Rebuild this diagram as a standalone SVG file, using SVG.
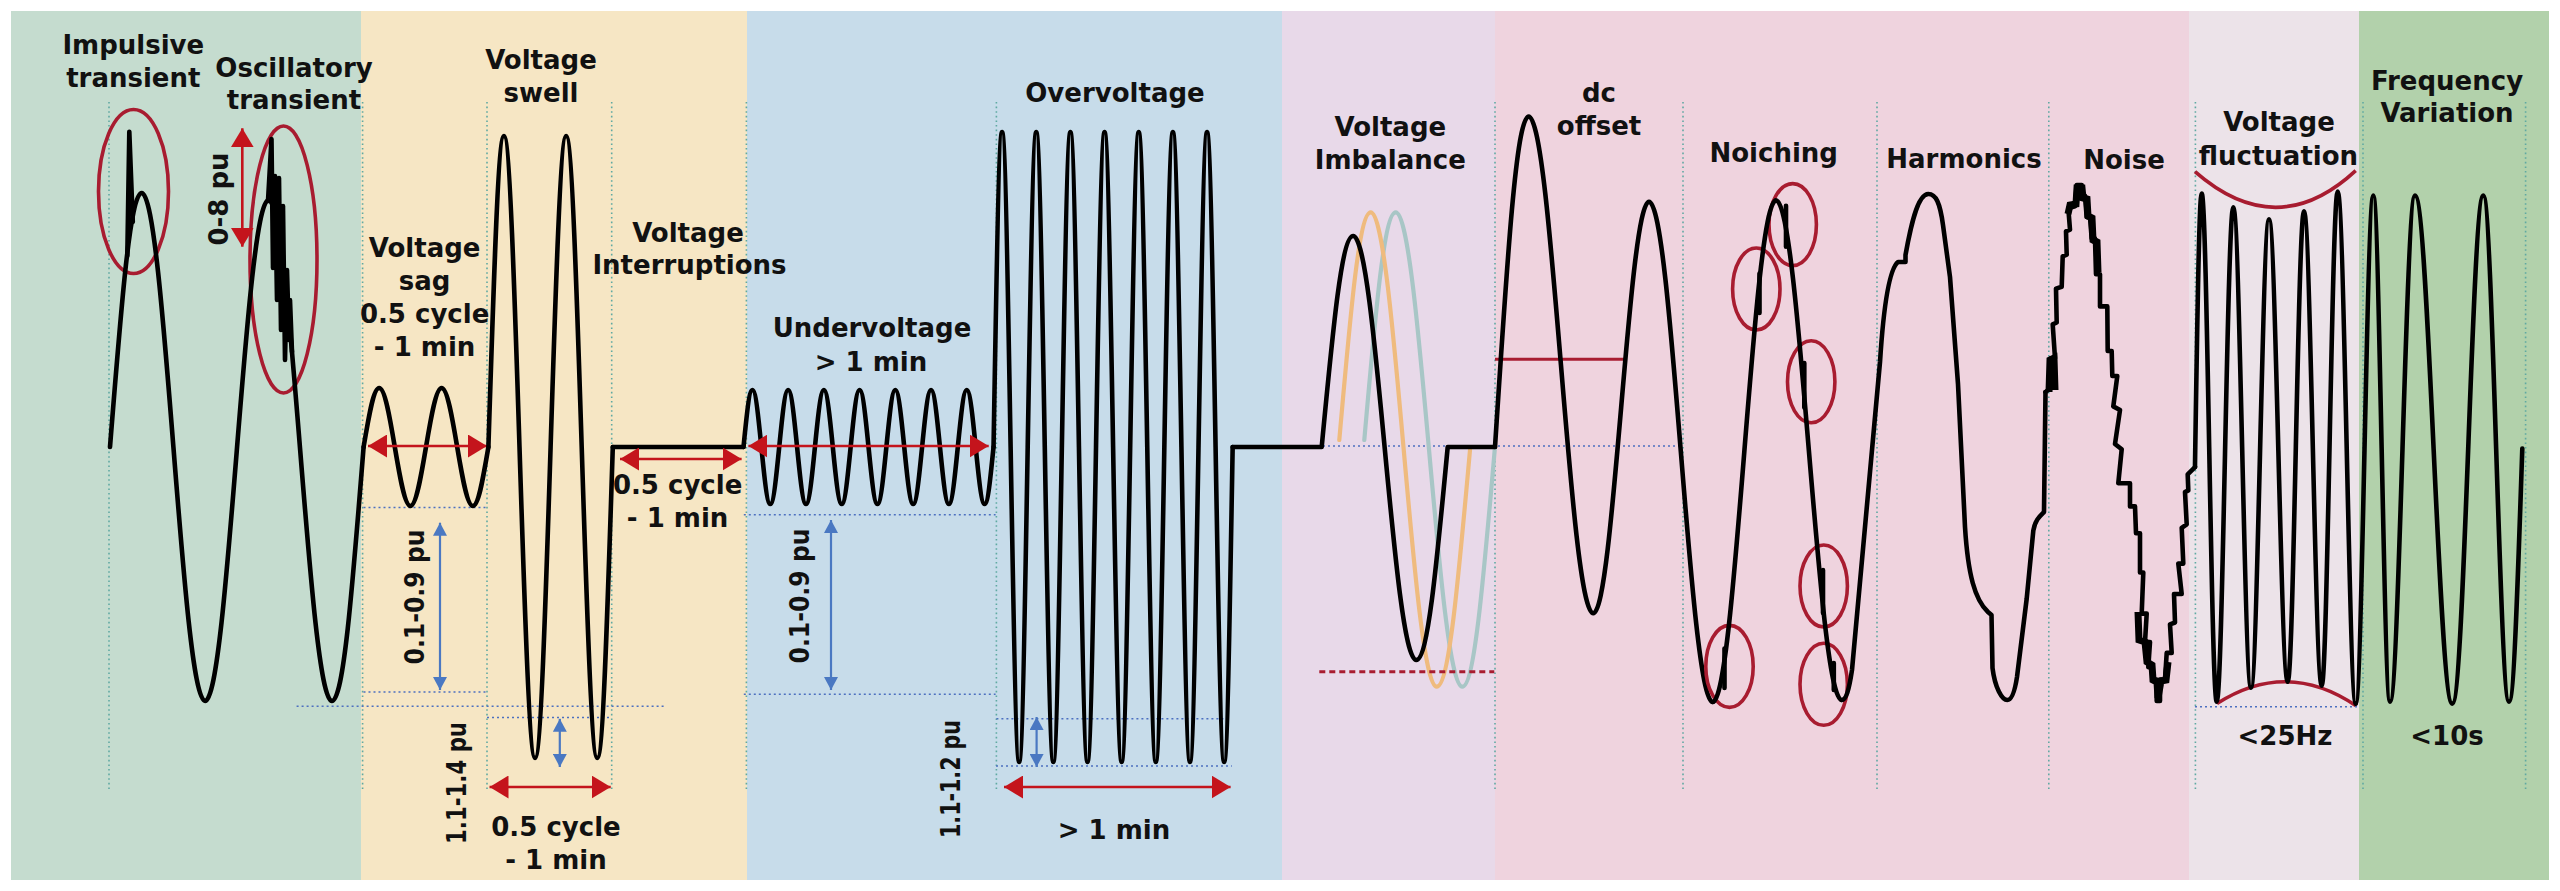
<svg xmlns="http://www.w3.org/2000/svg" width="2560" height="891" viewBox="0 0 2560 891">
<style>
.t{font-family:"DejaVu Sans","Liberation Sans",sans-serif;font-weight:bold;font-size:26px;fill:#111;text-anchor:middle}
.w{fill:none;stroke:#000;stroke-width:4.6;stroke-linejoin:round;stroke-linecap:round}
.vg{stroke:#5fa9a2;stroke-width:1.6;stroke-dasharray:1.6 3;fill:none}
.hg{stroke:#4d70c0;stroke-width:1.5;stroke-dasharray:2 3;fill:none}
.ra{stroke:#c4141c;stroke-width:2.6;fill:none}
.ba{stroke:#4a78c2;stroke-width:2.2;fill:none}
.el{fill:none;stroke:#a81c30;stroke-width:3.6}
</style>
<defs>
<marker id="rh" viewBox="0 0 19 23" refX="19" refY="11.5" markerWidth="19" markerHeight="23" markerUnits="userSpaceOnUse" orient="auto-start-reverse" preserveAspectRatio="none"><path d="M0,0 L19,11.5 L0,23 Z" fill="#c4141c"/></marker>
<marker id="bh" viewBox="0 0 13 14" refX="13" refY="7" markerWidth="13" markerHeight="14" markerUnits="userSpaceOnUse" orient="auto-start-reverse" preserveAspectRatio="none"><path d="M0,0 L13,7 L0,14 Z" fill="#4a78c2"/></marker>
</defs>
<rect width="2560" height="891" fill="#fff"/>
<g id="panels">
<rect x="11" y="11" width="350" height="869" fill="#c5dccf"/>
<rect x="361" y="11" width="386" height="869" fill="#f6e6c4"/>
<rect x="747" y="11" width="535" height="869" fill="#c7dcea"/>
<rect x="1282" y="11" width="213" height="869" fill="#e8d9e9"/>
<rect x="1495" y="11" width="694" height="869" fill="#efd3de"/>
<rect x="2189" y="11" width="170" height="869" fill="#ece3e9"/>
<rect x="2359" y="11" width="190" height="869" fill="#b2d1ab"/>
</g>
<g id="guides">
<path class="vg" d="M109,102V789M362.6,102V789M487,102V789M611.7,102V789M746.4,102V789M996.4,102V789M1495,102V789M1683,102V789M1877,102V789M2048.8,102V789M2195.4,102V789M2363,102V789M2525.6,102V789"/>
<path class="hg" d="M363.5,507.4H487M363.5,692H487M296.6,706.2H666.5M487,717.6H611.7M743.8,514.8H995.6M743.8,694.3H995.6M996.4,718.8H1229.8M996,766H1231.8M1318,446H1682M2195,706.7H2360"/>
</g>
<g id="transients">
<ellipse class="el" cx="133.5" cy="191.5" rx="35" ry="82"/>
<ellipse class="el" cx="283.5" cy="259.5" rx="33.5" ry="133.5"/>
<path class="w" d="M110,447 c11.5,-145 20.2,-254 31.7,-254 c23.1,0 40.3,508 63.4,508 c23.1,0 40.3,-501 63.4,-501 c23.1,0 40.3,501 63.4,501 c11.5,0 20.2,-108.7 31.7,-254"/>
<path class="w" stroke-width="4" d="M127.3,256 L129.3,131.7 L132.8,222"/>
<path class="w" stroke-width="4" d="M268,201 L271.5,139 L273,268 L275,176 L277,300 L279,178 L281,330 L283,206 L285,360 L287,270 L289,340 L290,300 L292,352"/>
<line class="ra" x1="242.3" y1="246.7" x2="242.3" y2="128.3" marker-start="url(#rh)" marker-end="url(#rh)"/>
<text class="t" transform="translate(228,199) rotate(-90)">0-8 pu</text>
<text class="t" x="133.3" y="54">Impulsive</text>
<text class="t" x="133.3" y="87">transient</text>
<text class="t" x="294" y="77">Oscillatory</text>
<text class="t" x="294" y="109">transient</text>
</g>
<g id="sag">
<path class="w" d="M363.6,447 c5.7,-33.7 9.9,-59 15.6,-59 c11.36,0 19.84,118 31.2,118 c11.36,0 19.84,-118 31.2,-118 c11.36,0 19.84,118 31.2,118 c5.7,0 9.9,-25.3 15.6,-59"/>
<line class="ra" x1="368" y1="446" x2="487" y2="446" marker-start="url(#rh)" marker-end="url(#rh)"/>
<line class="ba" x1="440" y1="522.7" x2="440" y2="690" marker-start="url(#bh)" marker-end="url(#bh)"/>
<text class="t" transform="translate(424,597) rotate(-90)" textLength="135" lengthAdjust="spacingAndGlyphs">0.1-0.9 pu</text>
<text class="t" x="424.6" y="257">Voltage</text>
<text class="t" x="424.6" y="290">sag</text>
<text class="t" x="424.6" y="323">0.5 cycle</text>
<text class="t" x="424.6" y="356">- 1 min</text>
</g>
<g id="swell">
<path class="w" d="M488.4,447 c5.66,-177.9 9.89,-311 15.55,-311 c11.32,0 19.78,622 31.1,622 c11.32,0 19.78,-622 31.1,-622 c11.32,0 19.78,622 31.1,622 c5.66,0 9.89,-133.1 15.55,-311"/>
<line class="ba" x1="559.8" y1="718.8" x2="559.8" y2="767" marker-start="url(#bh)" marker-end="url(#bh)"/>
<line class="ra" x1="489.5" y1="787" x2="610.7" y2="787" marker-start="url(#rh)" marker-end="url(#rh)"/>
<text class="t" transform="translate(466,783) rotate(-90)" textLength="122" lengthAdjust="spacingAndGlyphs">1.1-1.4 pu</text>
<text class="t" x="541" y="69">Voltage</text>
<text class="t" x="541" y="102">swell</text>
<text class="t" x="556" y="836">0.5 cycle</text>
<text class="t" x="556" y="869">- 1 min</text>
</g>
<g id="interruption">
<path class="w" d="M612.8,447 H743.5"/>
<line class="ra" x1="620" y1="459" x2="741.6" y2="459" marker-start="url(#rh)" marker-end="url(#rh)"/>
<text class="t" x="688" y="241.5">Voltage</text>
<text class="t" x="689.5" y="274">Interruptions</text>
<text class="t" x="677.6" y="494">0.5 cycle</text>
<text class="t" x="677.6" y="527">- 1 min</text>
</g>
<g id="undervoltage">
<path class="w" d="M743.5,447 c3.25,-32.6 5.68,-57 8.93,-57 c6.5,0 11.36,114 17.86,114 c6.5,0 11.36,-114 17.86,-114 c6.5,0 11.36,114 17.86,114 c6.5,0 11.36,-114 17.86,-114 c6.5,0 11.36,114 17.86,114 c6.5,0 11.36,-114 17.86,-114 c6.5,0 11.36,114 17.86,114 c6.5,0 11.36,-114 17.86,-114 c6.5,0 11.36,114 17.86,114 c6.5,0 11.36,-114 17.86,-114 c6.5,0 11.36,114 17.86,114 c6.5,0 11.36,-114 17.86,-114 c6.5,0 11.36,114 17.86,114 c3.25,0 5.68,-24.4 8.93,-57"/>
<line class="ra" x1="748.4" y1="446" x2="988.7" y2="446" marker-start="url(#rh)" marker-end="url(#rh)"/>
<line class="ba" x1="831" y1="520" x2="831" y2="690" marker-start="url(#bh)" marker-end="url(#bh)"/>
<text class="t" transform="translate(809,596) rotate(-90)" textLength="135" lengthAdjust="spacingAndGlyphs">0.1-0.9 pu</text>
<text class="t" x="872" y="337">Undervoltage</text>
<text class="t" x="871" y="370.5">&gt; 1 min</text>
</g>
<g id="overvoltage">
<path class="w" d="M993.54,447 c3.11,-180.2 5.43,-315 8.54,-315 c6.22,0 10.86,630 17.08,630 c6.22,0 10.86,-630 17.08,-630 c6.22,0 10.86,630 17.08,630 c6.22,0 10.86,-630 17.08,-630 c6.22,0 10.86,630 17.08,630 c6.22,0 10.86,-630 17.08,-630 c6.22,0 10.86,630 17.08,630 c6.22,0 10.86,-630 17.08,-630 c6.22,0 10.86,630 17.08,630 c6.22,0 10.86,-630 17.08,-630 c6.22,0 10.86,630 17.08,630 c6.22,0 10.86,-630 17.08,-630 c6.22,0 10.86,630 17.08,630 c3.11,0 5.43,-134.8 8.54,-315"/>
<line class="ba" x1="1036.6" y1="717" x2="1036.6" y2="767" marker-start="url(#bh)" marker-end="url(#bh)"/>
<line class="ra" x1="1004" y1="787" x2="1230.6" y2="787" marker-start="url(#rh)" marker-end="url(#rh)"/>
<text class="t" transform="translate(960,779) rotate(-90)" textLength="118" lengthAdjust="spacingAndGlyphs">1.1-1.2 pu</text>
<text class="t" x="1115" y="102">Overvoltage</text>
<text class="t" x="1114" y="839">&gt; 1 min</text>
</g>
<g id="imbalance">
<path fill="none" stroke="#a8c6c6" stroke-width="4.2" stroke-linecap="round" d="M1364.3,440 c11.43,-130.2 19.96,-227.7 31.4,-227.7 C1419.94,212.3 1438.06,686.7 1462.3,686.7 C1474.2,686.7 1483.1,584 1495,446.7"/>
<path fill="none" stroke="#efbb7e" stroke-width="4.2" stroke-linecap="round" d="M1339.3,440 c11.43,-130.2 19.96,-227.7 31.4,-227.7 C1394.72,212.3 1412.68,686.7 1436.7,686.7 C1448.82,686.7 1457.87,585.4 1470,450"/>
<path class="w" d="M1232.66,447 H1321.7 c11.47,-120.7 20.03,-211 31.5,-211 c22.93,0 40.07,424 63,424 c11.47,0 20.03,-91 31.5,-213 H1495"/>
<path fill="none" stroke="#a81c30" stroke-width="3" stroke-dasharray="6 4" d="M1319.3,671.7H1494.3"/>
<text class="t" x="1390.3" y="136.4">Voltage</text>
<text class="t" x="1390.3" y="169.3">Imbalance</text>
</g>
<g id="dc-offset">
<path fill="none" stroke="#a81c30" stroke-width="3" d="M1495,359.3H1625"/>
<path class="w" d="M1495,447 c12.24,-189 21.36,-330.5 33.6,-330.5 c23.55,0 41.15,496.8 64.7,496.8 c20.27,0 35.43,-411.6 55.7,-411.6 c23.19,0 40.51,500.3 63.7,500.3"/>
<text class="t" x="1599" y="102">dc</text>
<text class="t" x="1599" y="135">offset</text>
</g>
<g id="noiching">
<ellipse class="el" cx="1729.5" cy="666.4" rx="23.7" ry="41"/>
<ellipse class="el" cx="1756.3" cy="289" rx="23.7" ry="41"/>
<ellipse class="el" cx="1792.7" cy="224.6" rx="23.7" ry="41"/>
<ellipse class="el" cx="1811.2" cy="381.8" rx="23.7" ry="41"/>
<ellipse class="el" cx="1823.7" cy="586" rx="23.7" ry="41"/>
<ellipse class="el" cx="1823.7" cy="684.3" rx="23.7" ry="41"/>
<path class="w" d="M1712.7,702 c23.04,0 40.26,-501.6 63.3,-501.6 c23.91,0 41.79,499.6 65.7,499.6"/>
<path class="w" stroke-width="4" d="M1724.5,648.6V688M1759.5,273.6V313M1786,205.7V246.8M1804.3,363V407.5M1823,570V613M1833.8,663V690"/>
<text class="t" x="1773.7" y="162">Noiching</text>
</g>
<g id="harmonics">
<path class="w" d="M1841.7,700 C1846,700 1849,690 1852,670 L1880,362 C1883,315 1888,270 1898,262 L1905.5,262 L1905.5,255 C1910,230 1917,194 1928.3,194 C1936,194 1940,203 1943,225 L1950,277 L1958,384 L1965,527 C1968,575 1975,600 1988,612 L1991.5,615 L1992.5,668 C1995,688 2002,700 2007.3,700 C2012,700 2015,690 2017,677 L2026.7,598.6 L2033.3,530.7 C2035,520 2040,516 2044,512 L2045.5,392"/>
<text class="t" x="1964" y="167.6">Harmonics</text>
</g>
<g id="noise">
<path class="w" stroke-linejoin="miter" stroke-linecap="square" d="M2045.5,392 L2050,388.6 L2050.7,358.2 L2055,358.2 L2052.7,324.3 L2056.7,322.5 L2056,288.6 L2061.7,286.8 L2062.7,256.4 L2066.7,254.6 L2066,231.4 L2070,229.6 L2068.3,208.2 L2075,206.4 L2076.7,185 L2081.7,185 L2081.7,195.7 L2085,195.7 L2086.7,217.1 L2090,217.1 L2091.7,238.6 L2095,238.6 L2096,274.3 L2100,274.3 L2100,306.4 L2107.3,306.4 L2107.7,351 L2111.7,351 L2112.3,376 L2117.3,376 L2113.3,406.4 L2120,410 L2115,444 L2121.7,449.3 L2118.3,483.2 L2130,483.2 L2130,506.4 L2135,506.4 L2136,533.2 L2140,533.2 L2140,572.5 L2143.3,572.5 L2141.7,613.6 L2146.7,613.6 L2145,642.1 L2150,642.1 L2148.3,667.1 L2152.7,667.1 L2152.7,679.6 L2156.7,679.6 L2156.7,701 L2160,701 L2160,679.6 L2165,679.6 L2166.7,652.9 L2171.7,652.9 L2170,624.3 L2175,622.5 L2174,594 L2181.7,594 L2178.3,563.6 L2183.3,563.6 L2181.7,527.9 L2186.7,524.3 L2185,492.1 L2188.3,490.4 L2187.7,474.3 L2195,467.1"/>
<path fill="none" stroke="#000" stroke-width="7" d="M2068,214 L2070,205 L2076,204 L2077,188 L2082,188 L2083,198 L2087,199 L2088,216 L2092,218 L2093,240 L2097,242 L2098,272 M2138,612 L2139,640 L2145,642 L2147,662 L2152,665 L2153,680 L2157,682 L2158,698 L2161,681 L2166,680 L2168,662 M2049,392 L2050,360 L2054,358 L2055,390"/>
<text class="t" x="2124" y="169.3">Noise</text>
</g>
<g id="fluctuation">
<path fill="none" stroke="#a81c30" stroke-width="3.6" d="M2195,171.7 Q2277,243.5 2355.7,170.6 M2217,703.6 Q2286.7,659 2355.7,705.6"/>
<path class="w" d="M2195,467.1 L2195,465 c2.44,-155.3 4.26,-271.5 6.7,-271.5 C2207.16,193.5 2211.24,701.6 2216.7,701.6 C2222.74,701.6 2227.26,207.3 2233.3,207.3 C2239.74,207.3 2244.56,687.8 2251,687.8 C2257.55,687.8 2262.45,219.2 2269,219.2 C2275.81,219.2 2280.89,681.8 2287.7,681.8 C2293.63,681.8 2298.07,211.3 2304,211.3 C2310.44,211.3 2315.26,685.8 2321.7,685.8 C2327.52,685.8 2331.88,191.5 2337.7,191.5 C2344.25,191.5 2349.15,703.6 2355.7,703.6"/>
<text class="t" x="2279" y="130.7">Voltage</text>
<text class="t" x="2278.4" y="164.8">fluctuation</text>
<text class="t" x="2285" y="745">&lt;25Hz</text>
</g>
<g id="frequency-variation">
<path class="w" d="M2355.7,703.6 C2362.11,703.6 2366.89,195.5 2373.3,195.5 C2379.38,195.5 2383.92,701.6 2390,701.6 C2399.1,701.6 2405.9,195.5 2415,195.5 C2428.58,195.5 2438.72,703.6 2452.3,703.6 C2464.58,703.6 2472.02,195.5 2483.3,195.5 C2492.65,195.5 2499.65,701.6 2509,701.6 C2513.84,701.6 2517.46,593.3 2522.3,448.5"/>
<text class="t" x="2447" y="89.8">Frequency</text>
<text class="t" x="2447" y="122">Variation</text>
<text class="t" x="2447" y="745">&lt;10s</text>
</g>
</svg>
